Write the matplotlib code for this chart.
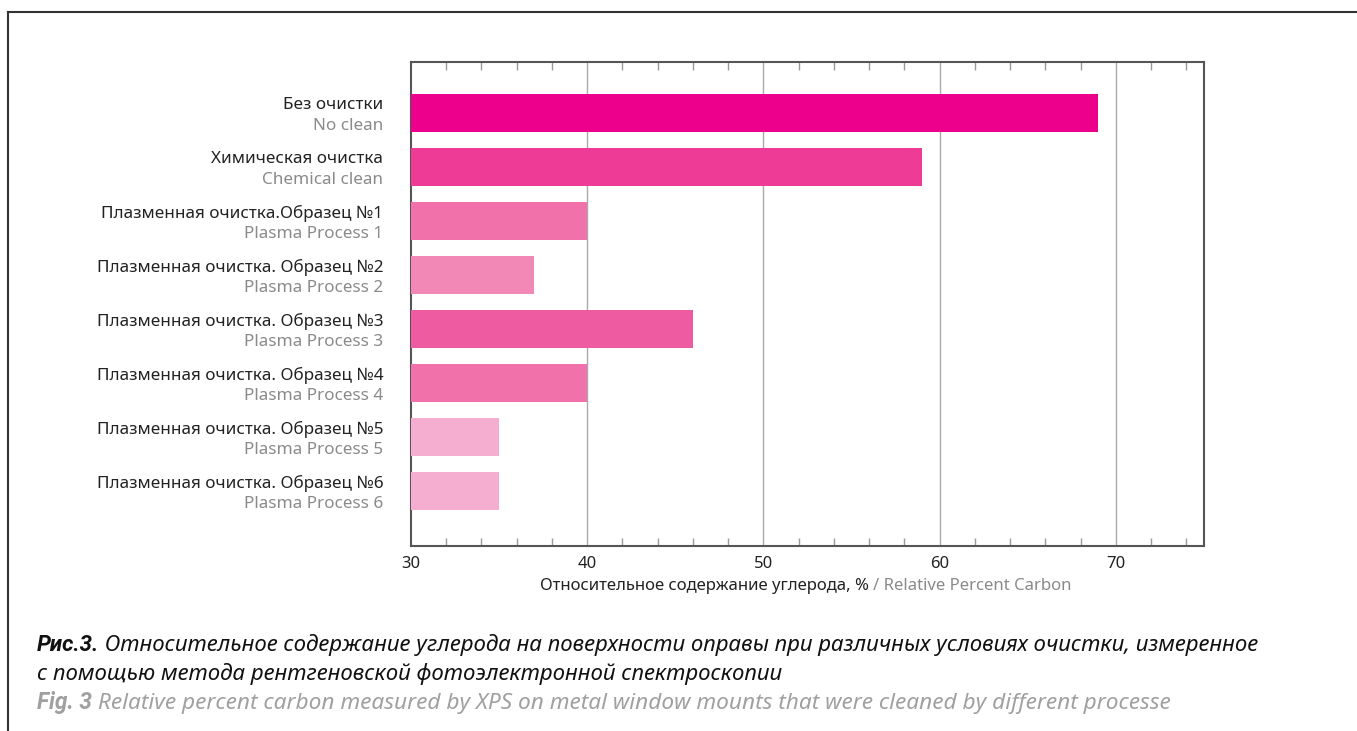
import matplotlib
matplotlib.use("Agg")
import matplotlib.pyplot as plt
from matplotlib.lines import Line2D
from matplotlib.ticker import MultipleLocator

labels_ru = ["Без очистки", "Химическая очистка", "Плазменная очистка.Образец №1",
             "Плазменная очистка. Образец №2", "Плазменная очистка. Образец №3",
             "Плазменная очистка. Образец №4", "Плазменная очистка. Образец №5",
             "Плазменная очистка. Образец №6"]
labels_en = ["No clean", "Chemical clean", "Plasma Process 1", "Plasma Process 2",
             "Plasma Process 3", "Plasma Process 4", "Plasma Process 5", "Plasma Process 6"]
values = [69, 59, 40, 37, 46, 40, 35, 35]
colors = ["#EC008C", "#EE3C96", "#F172AA", "#F188B6", "#EE5BA0", "#F172AA", "#F5ADD0", "#F5ADD0"]
xticks = [30, 40, 50, 60, 70]

plt.rcParams['font.family'] = ['Noto Sans', 'DejaVu Sans']

fig = plt.figure(figsize=(13.57, 7.31), dpi=100)
W, H = 1357, 731
ax = fig.add_axes([411 / W, 1 - 546 / H, (1204 - 411) / W, (546 - 62) / H])

base = 30
ypos = list(range(len(values)))
ax.barh(ypos, [v - base for v in values], left=base, height=0.70, color=colors, zorder=3)
ax.set_xlim(30, 75)
ax.set_ylim(8.02, -0.94)
ax.set_yticks([])
ax.set_xticks(xticks)
ax.xaxis.set_minor_locator(MultipleLocator(2))
ax.tick_params(axis='x', which='major', length=0, labelsize=12, colors='#222222', pad=7)
ax.tick_params(axis='x', which='minor', direction='in', length=6, width=1, color='#999999', top=True, bottom=True)
for xv in xticks[1:]:
    ax.axvline(xv, color='#aaaaaa', lw=1, zorder=1)
for s in ax.spines.values():
    s.set_color('#555555')
    s.set_linewidth(1.5)

fs = 12.3
for i in ypos:
    ax.annotate(labels_ru[i], xy=(0, i), xycoords=('axes fraction', 'data'), xytext=(-20, 5.5),
                textcoords='offset points', ha='right', va='center', fontsize=fs, color='#222222')
    ax.annotate(labels_en[i], xy=(0, i), xycoords=('axes fraction', 'data'), xytext=(-20, -9.6),
                textcoords='offset points', ha='right', va='center', fontsize=fs, color='#8a8a8a')

xfs = 12.05
t1 = fig.text(540 / W, 1 - 586 / H, "Относительное содержание углерода, % ", ha='left', va='center',
              fontsize=xfs, color='#222222')
ax.annotate("/ Relative Percent Carbon", xy=(1, 0), xycoords=t1, va='bottom', ha='left',
            fontsize=xfs, color='#8a8a8a')

cfs = 16
bold_fam = ['Roboto', 'DejaVu Sans']
c1 = fig.text(37 / W, 1 - 645 / H, "Рис.3.", fontsize=cfs, style='italic', weight='bold',
              family=bold_fam, color='#111111', va='center')
ax.annotate(" Относительное содержание углерода на поверхности оправы при различных условиях очистки, измеренное",
            xy=(1, 0), xycoords=c1, va='bottom', ha='left', fontsize=cfs, style='italic', color='#111111')
fig.text(37 / W, 1 - 674 / H, "с помощью метода рентгеновской фотоэлектронной спектроскопии",
         fontsize=cfs, style='italic', color='#111111', va='center')
c3 = fig.text(37 / W, 1 - 703 / H, "Fig. 3", fontsize=16.3, style='italic', weight='bold',
              family=bold_fam, color='#a0a0a0', va='center')
ax.annotate(" Relative percent carbon measured by XPS on metal window mounts that were cleaned by different processe",
            xy=(1, 0), xycoords=c3, va='bottom', ha='left', fontsize=16.3, style='italic', color='#a0a0a0')

fig.add_artist(Line2D([8 / W, 8 / W], [0, 1 - 12 / H], transform=fig.transFigure, color='#333333', lw=1.5))
fig.add_artist(Line2D([8 / W, 1], [1 - 12 / H, 1 - 12 / H], transform=fig.transFigure, color='#333333', lw=1.5))

fig.savefig("out.png", dpi=100)
